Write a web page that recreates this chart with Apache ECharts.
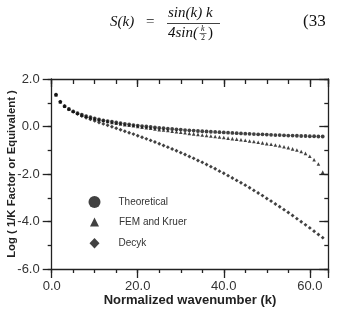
<!DOCTYPE html>
<html>
<head>
<meta charset="utf-8">
<script src="https://cdn.jsdelivr.net/npm/echarts@6/dist/echarts.min.js"></script>
<style>
html,body{margin:0;padding:0;background:#fff;}
#c{width:339px;height:310px;}
</style>
</head>
<body>
<div id="c"></div>
<script>
// Normalized wavenumber k
var K = [1,2,3,4,5,6,7,8,9,10,11,12,13,14,15,16,17,18,19,20,21,22,23,24,25,26,27,28,29,30,31,32,33,34,35,36,37,38,39,40,41,42,43,44,45,46,47,48,49,50,51,52,53,54,55,56,57,58,59,60,61,62,63];
// Theoretical (circles)
var theoretical = [1.34,1.04,0.86,0.74,0.64,0.56,0.50,0.44,0.39,0.34,0.30,0.26,0.23,0.20,0.17,0.14,0.11,0.09,0.06,0.04,0.02,0.00,-0.02,-0.04,-0.06,-0.07,-0.09,-0.10,-0.12,-0.13,-0.15,-0.16,-0.17,-0.19,-0.20,-0.21,-0.22,-0.23,-0.24,-0.25,-0.26,-0.27,-0.28,-0.29,-0.30,-0.31,-0.32,-0.33,-0.33,-0.34,-0.35,-0.36,-0.36,-0.37,-0.38,-0.38,-0.39,-0.40,-0.40,-0.41,-0.41,-0.42,-0.42];
// FEM and Kruer (triangles)
var femKruer = [1.34,1.04,0.86,0.74,0.64,0.56,0.49,0.43,0.38,0.33,0.29,0.25,0.21,0.175,0.14,0.11,0.08,0.05,0.03,0.00,-0.03,-0.05,-0.075,-0.10,-0.13,-0.15,-0.17,-0.20,-0.22,-0.24,-0.26,-0.29,-0.31,-0.33,-0.36,-0.38,-0.40,-0.42,-0.44,-0.46,-0.49,-0.51,-0.53,-0.56,-0.58,-0.61,-0.63,-0.66,-0.69,-0.72,-0.75,-0.78,-0.81,-0.85,-0.89,-0.94,-0.99,-1.05,-1.13,-1.25,-1.40,-1.58,-1.92];
// Decyk (diamonds)
var decyk = [1.34,1.04,0.855,0.72,0.615,0.525,0.445,0.37,0.30,0.235,0.17,0.11,0.05,-0.01,-0.075,-0.135,-0.20,-0.26,-0.32,-0.39,-0.45,-0.52,-0.585,-0.655,-0.725,-0.80,-0.87,-0.945,-1.02,-1.10,-1.18,-1.26,-1.34,-1.43,-1.51,-1.60,-1.69,-1.78,-1.88,-1.97,-2.07,-2.17,-2.27,-2.37,-2.47,-2.58,-2.69,-2.80,-2.91,-3.03,-3.14,-3.26,-3.38,-3.50,-3.62,-3.75,-3.88,-4.01,-4.14,-4.27,-4.41,-4.55,-4.68];
var xTickLabels = ['0.0','20.0','40.0','60.0'];
var yTickLabels = ['-6.0','-4.0','-2.0','0.0','2.0'];

function pairs(v){ return K.map(function(k,i){ return [k, v[i]]; }); }

var XMIN = 0, XMAX = 64.3, YMIN = -6, YMAX = 2;
var axisColor = '#222';
var lineStyle = {color: axisColor, width: 1.3};

function xa(pos, interval, tickLen, inside, showLabel, showLine, extra){
  var o = {
    type:'value', position:pos, min:XMIN, max:XMAX, interval:interval,
    splitLine:{show:false},
    axisLine:{show:showLine, onZero:false, lineStyle:lineStyle},
    axisTick:{show:true, inside:inside, length:tickLen, lineStyle:lineStyle},
    axisLabel:{show:showLabel}
  };
  if (extra) for (var k in extra) o[k]=extra[k];
  return o;
}
function ya(pos, interval, tickLen, inside, showLabel, showLine, extra){
  var o = {
    type:'value', position:pos, min:YMIN, max:YMAX, interval:interval,
    splitLine:{show:false},
    axisLine:{show:showLine, onZero:false, lineStyle:lineStyle},
    axisTick:{show:true, inside:inside, length:tickLen, lineStyle:lineStyle},
    axisLabel:{show:showLabel}
  };
  if (extra) for (var k in extra) o[k]=extra[k];
  return o;
}

var SANS = 'Liberation Sans, Arial, sans-serif';
var SERIF = '"Liberation Serif", "DejaVu Serif", serif';

var option = {
  animation:false,
  backgroundColor:'#fff',
  grid:{left:51.7, right:10.7, top:79, bottom:41, containLabel:false, outerBoundsMode:'none'},
  xAxis:[
    xa('bottom', 20, 9, false, true, true, {
      axisLabel:{show:true, margin:11, fontFamily:SANS, fontSize:13, color:'#333',
        formatter:function(v){ var i = Math.round(v/20); return (Math.abs(v - i*20) < 1e-6 && xTickLabels[i] !== undefined) ? xTickLabels[i] : ''; }},
      name:'Normalized wavenumber (k)', nameLocation:'middle', nameGap:25, nameMoveOverlap:false,
      nameTextStyle:{fontFamily:SANS, fontWeight:'bold', fontSize:13, color:'#222'}
    }),
    xa('bottom', 5, 4, false, false, false),
    xa('top', 5, 5, true, false, true),
    xa('top', 20, 8, true, false, false)
  ],
  yAxis:[
    ya('left', 2, 9, false, true, true, {
      axisLabel:{show:true, margin:12, fontFamily:SANS, fontSize:13, color:'#333',
        formatter:function(v){ var i = Math.round((v - YMIN)/2); return yTickLabels[i] || ''; }},
      name:'Log ( 1/K Factor or Equivalent )', nameLocation:'middle', nameGap:34, nameMoveOverlap:false,
      nameTextStyle:{fontFamily:SANS, fontWeight:'bold', fontSize:11.3, color:'#222'}
    }),
    ya('left', 1, 4, false, false, false),
    ya('right', 1, 4, true, false, true),
    ya('right', 2, 9, true, false, false)
  ],
  legend:[
    {data:[{name:'Theoretical', icon:'circle'}], left:83.5, top:191, itemWidth:12, itemHeight:12, selectedMode:false,
      textStyle:{fontFamily:SANS, fontSize:10, color:'#333', padding:[0,0,0,13]}},
    {data:[{name:'FEM and Kruer', icon:'triangle'}], left:85, top:212, itemWidth:9, itemHeight:9, selectedMode:false,
      textStyle:{fontFamily:SANS, fontSize:10, color:'#333', padding:[0,0,0,15]}},
    {data:[{name:'Decyk', icon:'diamond'}], left:84.5, top:233, itemWidth:10, itemHeight:10.5, selectedMode:false,
      textStyle:{fontFamily:SANS, fontSize:10, color:'#333', padding:[0,0,0,14]}}
  ],
  graphic:[
    {type:'text', left:110, top:15, style:{text:'S(k)', font:'italic 15px ' + SERIF, fill:'#111'}},
    {type:'text', left:146, top:15, style:{text:'=', font:'15px ' + SERIF, fill:'#111'}},
    {type:'text', left:168, top:6, style:{text:'sin(k) k', font:'italic 15px ' + SERIF, fill:'#111'}},
    {type:'line', shape:{x1:167, y1:23.5, x2:220, y2:23.5}, style:{stroke:'#111', lineWidth:0.8}},
    {type:'text', left:168, top:26, style:{text:'4sin(', font:'italic 15px ' + SERIF, fill:'#111'}},
    {type:'text', left:201, top:24.5, style:{text:'k', font:'italic 8px ' + SERIF, fill:'#111'}},
    {type:'line', shape:{x1:199.5, y1:33.5, x2:206.5, y2:33.5}, style:{stroke:'#111', lineWidth:0.6}},
    {type:'text', left:201, top:34, style:{text:'2', font:'8px ' + SERIF, fill:'#111'}},
    {type:'text', left:208, top:26, style:{text:')', font:'15px ' + SERIF, fill:'#111'}},
    {type:'text', left:303, top:13, style:{text:'(33', font:'17px ' + SERIF, fill:'#111'}}
  ],
  series:[
    {name:'Theoretical', type:'scatter', symbol:'circle', symbolSize:3.8, data:pairs(theoretical), itemStyle:{color:'#111'}},
    {name:'FEM and Kruer', type:'scatter', symbol:'triangle', symbolSize:3.6, data:pairs(femKruer), itemStyle:{color:'#111'}},
    {name:'Decyk', type:'scatter', symbol:'diamond', symbolSize:3.9, data:pairs(decyk), itemStyle:{color:'#111'}}
  ]
};
var chart = echarts.init(document.getElementById('c'), null, {renderer:'canvas'});
chart.setOption(option);
</script>
</body>
</html>
